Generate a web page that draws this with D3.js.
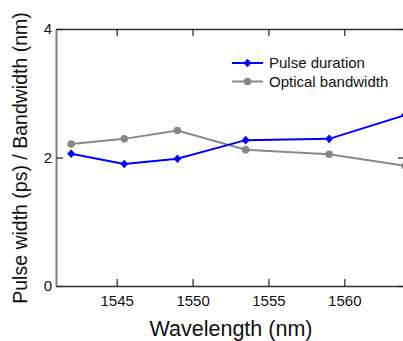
<!DOCTYPE html>
<html><head><meta charset="utf-8">
<script src="https://cdn.jsdelivr.net/npm/d3@7"></script>
<style>html,body{margin:0;padding:0;background:#fff;overflow:hidden}svg{display:block}</style>
</head><body>
<svg id="c" width="403" height="341"></svg>
<script>
const wavelengths = [1542.0, 1545.5, 1549.0, 1553.5, 1559.0, 1564.0];
const pulseDuration = [2.06, 1.90, 1.98, 2.27, 2.29, 2.66];
const opticalBandwidth = [2.21, 2.29, 2.42, 2.12, 2.05, 1.87];
const xTicks = [1545, 1550, 1555, 1560];
const yTicks = [0, 2, 4];
const seriesNames = ["Pulse duration", "Optical bandwidth"];

const font = "'Liberation Sans', Arial, sans-serif";
const svg = d3.select("#c");
const L = 56, R = 405, T = 29, B = 286;
const x = d3.scaleLinear().domain([1541, 1564]).range([L, R]);
const y = d3.scaleLinear().domain([0, 4]).range([B, T]);
const tickLen = 7;

// axes (inward ticks)
const gB = svg.append("g").attr("transform", `translate(0,${B})`)
  .call(d3.axisBottom(x).tickValues(xTicks).tickSizeInner(-tickLen).tickSizeOuter(0).tickPadding(12).tickFormat(d3.format("d")));
const gT = svg.append("g").attr("transform", `translate(0,${T})`)
  .call(d3.axisTop(x).tickValues(xTicks).tickSizeInner(-tickLen).tickSizeOuter(0).tickFormat(""));
const gL = svg.append("g").attr("transform", `translate(${L},0)`)
  .call(d3.axisLeft(y).tickValues(yTicks).tickSizeInner(-tickLen).tickSizeOuter(0).tickPadding(4).tickFormat(d3.format("d")));
const gR = svg.append("g").attr("transform", `translate(${R},0)`)
  .call(d3.axisRight(y).tickValues(yTicks).tickSizeInner(-tickLen).tickSizeOuter(0).tickFormat(""));
[gB, gT, gL, gR].forEach(g => {
  g.select(".domain").attr("stroke", "#333").attr("stroke-width", 1.5);
  g.selectAll(".tick line").attr("stroke", "#222").attr("stroke-width", 1.2);
  g.selectAll(".tick text").attr("font-family", font).attr("font-size", 15).attr("fill", "#111");
});
gL.select(".domain").attr("stroke", "#808080").attr("stroke-width", 2);
gL.selectAll(".tick text").attr("x", -4);
gB.selectAll(".tick text").attr("dy", "0.71em").attr("y", 9);

// lines
const gray = "#888888", blue = "#0000ff";
const line = d3.line().x(d => x(d[0])).y(d => y(d[1]));
const bwData = wavelengths.map((w, i) => [w, opticalBandwidth[i]]);
const pdData = wavelengths.map((w, i) => [w, pulseDuration[i]]);

svg.append("path").datum(bwData).attr("d", line).attr("fill", "none").attr("stroke", gray).attr("stroke-width", 2);
svg.selectAll(".bw").data(bwData).join("circle").attr("class", "bw")
  .attr("cx", d => x(d[0])).attr("cy", d => y(d[1])).attr("r", 3.8).attr("fill", gray);

svg.append("path").datum(pdData).attr("d", line).attr("fill", "none").attr("stroke", blue).attr("stroke-width", 2);
const diamond = "M0,-4.3L4,0L0,4.3L-4,0Z";
svg.selectAll(".pd").data(pdData).join("path").attr("class", "pd")
  .attr("transform", d => `translate(${x(d[0])},${y(d[1])})`).attr("d", diamond).attr("fill", blue);

// legend
const lg = svg.append("g");
const lx1 = 232, lx2 = 263, ly = [63, 81.5];
[blue, gray].forEach((c, i) => {
  lg.append("line").attr("x1", lx1).attr("x2", lx2).attr("y1", ly[i]).attr("y2", ly[i]).attr("stroke", c).attr("stroke-width", 2);
  if (i === 0) lg.append("path").attr("transform", `translate(${(lx1+lx2)/2},${ly[i]})`).attr("d", diamond).attr("fill", c);
  else lg.append("circle").attr("cx", (lx1+lx2)/2).attr("cy", ly[i]).attr("r", 3.8).attr("fill", c);
  lg.append("text").attr("x", 269).attr("y", ly[i]).attr("dy", "0.35em").attr("font-family", font).attr("font-size", 15)
    .attr("fill", "#111").text(seriesNames[i]);
});

// titles
svg.append("text").attr("x", 231).attr("y", 336).attr("text-anchor", "middle")
  .attr("font-family", font).attr("font-size", 21.5).attr("fill", "#111").text("Wavelength (nm)");
svg.append("text").attr("transform", "translate(27,158) rotate(-90)").attr("text-anchor", "middle")
  .attr("font-family", font).attr("font-size", 19.5).attr("fill", "#111").text("Pulse width (ps) / Bandwidth (nm)");
</script>
</body></html>
